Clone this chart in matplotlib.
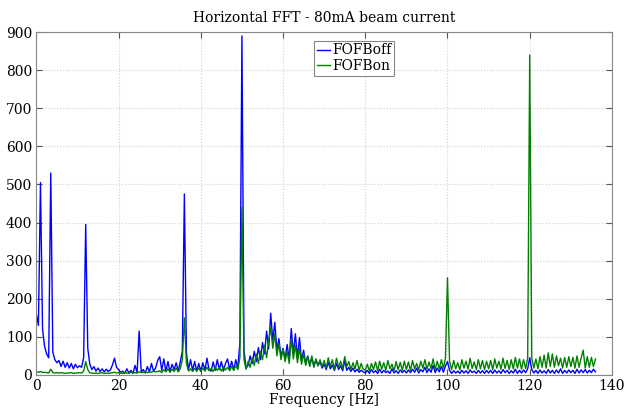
import numpy as np
import matplotlib
matplotlib.use("Agg")
import matplotlib.pyplot as plt

plt.rcParams['font.family'] = ['DejaVu Serif']

# frequency bins, 0.5 Hz spacing from 0 to 136 Hz
step = 0.5
n_bins = 273

fofb_off = [
    160, 130, 505, 120, 75, 55, 45, 530, 60, 40, 32, 38, 22, 36, 20, 32, 18, 30, 16, 28,
    19, 24, 20, 45, 395, 70, 28, 14, 22, 10, 18, 9, 16, 8, 15, 9, 13, 26, 44, 20,
    14, 6, 10, 4, 16, 5, 12, 4, 25, 6, 115, 8, 14, 5, 22, 8, 30, 10, 18, 38,
    48, 12, 42, 10, 35, 8, 28, 14, 32, 10, 34, 62, 475, 58, 14, 40, 12, 35, 10, 30,
    10, 32, 12, 44, 14, 10, 34, 12, 40, 14, 35, 10, 30, 42, 14, 36, 12, 40, 18, 85,
    890, 65, 18, 25, 50, 30, 62, 35, 72, 40, 85, 55, 115, 68, 162, 90, 138, 65, 95, 48,
    70, 42, 80, 40, 122, 55, 108, 45, 98, 36, 65, 30, 50, 26, 45, 22, 40, 24, 35, 18,
    28, 14, 33, 16, 26, 12, 30, 14, 24, 11, 38, 12, 20, 9, 18, 8, 15, 7, 12, 8,
    5, 12, 4, 14, 6, 11, 4, 15, 5, 12, 6, 10, 4, 16, 5, 11, 4, 13, 6, 12,
    5, 13, 6, 15, 7, 18, 5, 14, 8, 20, 6, 16, 7, 25, 6, 18, 8, 22, 7, 24,
    35, 12, 4, 11, 5, 10, 4, 12, 5, 11, 4, 13, 6, 10, 4, 12, 5, 11, 4, 12,
    5, 12, 4, 13, 5, 11, 4, 14, 6, 12, 4, 11, 5, 15, 4, 12, 5, 13, 6, 16,
    45, 14, 5, 12, 4, 13, 5, 11, 4, 14, 5, 12, 4, 13, 5, 16, 4, 12, 5, 13,
    6, 12, 4, 15, 5, 13, 6, 14, 5, 12, 6, 15, 8,
]

fofb_on = [
    8, 7, 9, 6, 7, 6, 5, 15, 6, 5, 6, 5, 6, 5, 4, 5, 5, 6, 4, 5,
    5, 6, 5, 10, 35, 14, 6, 5, 4, 5, 4, 5, 6, 4, 5, 4, 5, 6, 7, 5,
    6, 5, 4, 6, 5, 4, 7, 5, 6, 5, 8, 6, 7, 9, 6, 8, 7, 10, 8, 9,
    11, 6, 14, 8, 16, 7, 15, 9, 18, 8, 16, 40, 150, 30, 10, 16, 9, 17, 10, 18,
    9, 18, 10, 20, 11, 17, 9, 21, 12, 19, 10, 22, 13, 20, 11, 22, 12, 24, 14, 45,
    440, 40, 15, 35, 20, 45, 25, 55, 30, 62, 40, 78, 45, 90, 125, 70, 108, 50, 82, 40,
    68, 35, 62, 30, 95, 42, 78, 32, 70, 28, 55, 25, 48, 22, 50, 20, 42, 24, 40, 22,
    38, 18, 45, 22, 40, 15, 44, 20, 36, 17, 48, 22, 35, 14, 32, 16, 38, 12, 30, 15,
    12, 28, 10, 30, 14, 34, 11, 36, 15, 32, 12, 38, 16, 28, 11, 35, 14, 33, 12, 36,
    14, 34, 12, 38, 16, 30, 13, 36, 18, 40, 15, 34, 17, 42, 14, 36, 16, 40, 18, 44,
    255, 35, 14, 38, 16, 32, 13, 40, 18, 36, 15, 44, 17, 34, 14, 40, 16, 38, 14, 36,
    16, 38, 14, 42, 18, 36, 15, 44, 17, 38, 14, 40, 16, 46, 18, 42, 15, 40, 17, 44,
    840, 44, 18, 42, 16, 48, 20, 52, 18, 58, 22, 55, 20, 50, 24, 44, 18, 46, 20, 48,
    22, 46, 18, 50, 20, 44, 65, 18, 48, 20, 46, 22, 42,
]

freq = np.arange(n_bins) * step

fig = plt.figure(figsize=(6.27, 4.12), dpi=100)
ax = fig.add_axes([0.058, 0.09, 0.918, 0.832])

ax.plot(freq, fofb_off, color='#0000ff', lw=1.0, label='FOFBoff')
ax.plot(freq, fofb_on, color='#008000', lw=1.0, label='FOFBon')

ax.set_xlim(0, 140)
ax.set_ylim(0, 900)
ax.set_xticks(np.arange(0, 141, 20))
ax.set_yticks(np.arange(0, 901, 100))
ax.grid(True, linestyle=':', color='#d0d0d0', lw=0.8)
ax.tick_params(direction='in', top=True, right=True, labelsize=10, length=4,
               color='#555555', pad=3)
for s in ax.spines.values():
    s.set_color('#888888')

ax.set_title('Horizontal FFT - 80mA beam current', fontsize=10, pad=7)
ax.set_xlabel('Frequency [Hz]', fontsize=10, labelpad=0)

leg = ax.legend(loc='upper left', bbox_to_anchor=(0.482, 0.975), fontsize=10,
                handlelength=1.0, handletextpad=0.1, borderpad=0.2,
                labelspacing=0.1, fancybox=False, framealpha=1, borderaxespad=0)
leg.get_frame().set_edgecolor('#888888')
leg.get_frame().set_linewidth(0.8)

fig.savefig('out.png', dpi=100)
